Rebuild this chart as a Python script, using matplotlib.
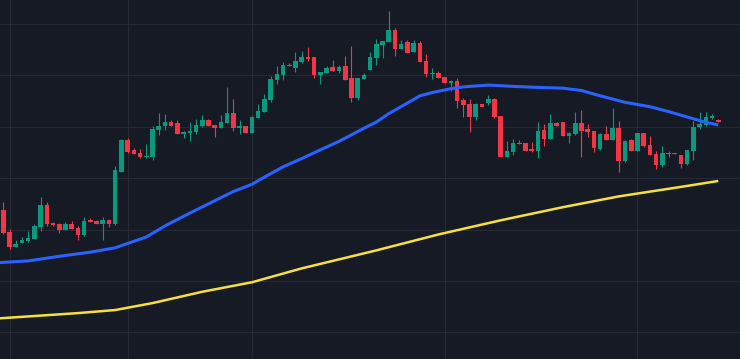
import matplotlib
matplotlib.use("Agg")
import matplotlib.pyplot as plt

# daily candles (oldest first)
opens = [18.76, 17.91, 17.33, 17.49, 17.56, 17.64, 18.11, 18.96, 18.24, 18.22,
         17.99, 18.22, 18.06, 17.79, 18.37, 18.33, 18.23, 18.37, 18.23, 20.25,
         21.48, 21.10, 20.98, 20.81, 20.83, 21.88, 22.03, 22.18, 22.15, 21.73,
         21.77, 21.80, 22.03, 22.26, 22.07, 21.95, 22.15, 22.53, 21.95, 22.03,
         21.77, 22.35, 22.59, 23.04, 23.82, 24.01, 24.40, 24.28, 24.52, 24.71,
         24.71, 24.01, 24.09, 24.32, 24.17, 24.36, 23.90, 23.12, 23.86, 24.21,
         24.67, 25.18, 25.30, 25.76, 25.02, 25.30, 24.91, 25.26, 24.56, 24.05,
         24.09, 23.93, 23.70, 23.78, 23.04, 22.88, 22.38, 22.88, 22.92, 23.08,
         22.42, 20.82, 21.02, 21.37, 21.37, 21.13, 21.06, 21.87, 21.52, 22.15,
         22.18, 21.64, 21.72, 22.15, 21.91, 21.83, 21.13, 21.72, 21.48, 21.95,
         20.67, 21.48, 21.06, 21.76, 21.29, 20.94, 20.51, 20.98, 20.98, 20.90,
         20.55, 21.06, 21.99, 22.07, 22.34, 22.26]
highs = [19.08, 18.02, 17.59, 17.71, 17.94, 18.20, 19.27, 19.07, 18.29, 18.26,
         18.28, 18.32, 18.15, 18.48, 18.45, 18.38, 18.48, 18.40, 20.47, 21.52,
         21.56, 21.17, 21.13, 21.33, 22.03, 22.53, 22.50, 22.26, 22.26, 21.85,
         22.18, 22.30, 22.46, 22.30, 22.07, 22.46, 23.55, 23.08, 22.26, 22.03,
         22.43, 22.88, 23.27, 23.97, 24.36, 24.52, 24.48, 24.91, 24.95, 25.10,
         24.71, 24.13, 24.36, 24.60, 24.40, 24.75, 25.14, 23.90, 24.09, 24.91,
         25.41, 25.34, 26.50, 25.84, 25.37, 25.37, 25.37, 25.34, 24.83, 24.28,
         24.17, 23.93, 23.82, 23.90, 23.12, 23.08, 22.92, 22.88, 23.23, 23.12,
         22.42, 21.45, 21.52, 21.48, 21.37, 21.41, 22.18, 22.11, 22.50, 22.18,
         22.18, 21.80, 22.57, 22.65, 22.11, 21.83, 21.76, 22.03, 22.73, 22.22,
         21.48, 21.52, 21.76, 21.76, 21.64, 21.06, 21.25, 21.06, 20.98, 20.90,
         21.10, 22.22, 22.57, 22.57, 22.50, 22.30]
lows = [17.82, 17.26, 17.33, 17.49, 17.52, 17.64, 17.96, 18.15, 18.15, 17.88,
        17.99, 18.02, 17.59, 17.75, 18.31, 18.23, 17.61, 18.10, 18.18, 20.23,
        20.96, 20.94, 20.80, 20.78, 20.72, 21.68, 21.88, 22.03, 21.72, 21.57,
        21.45, 21.72, 21.99, 22.03, 21.60, 21.95, 22.15, 21.83, 21.72, 21.76,
        21.76, 22.34, 22.59, 22.96, 23.66, 23.82, 24.36, 24.13, 24.48, 24.56,
        23.90, 23.66, 24.09, 24.17, 24.09, 23.82, 22.96, 23.04, 23.86, 24.21,
        24.40, 24.67, 25.30, 24.75, 25.02, 24.87, 24.91, 24.52, 23.93, 23.86,
        23.90, 23.70, 23.39, 22.73, 22.38, 21.80, 22.26, 22.77, 22.85, 22.34,
        20.82, 20.82, 20.90, 21.33, 21.06, 21.02, 20.78, 21.25, 21.52, 22.03,
        21.64, 21.37, 21.68, 20.82, 21.60, 21.02, 21.10, 21.48, 21.48, 20.24,
        20.63, 21.06, 21.06, 21.21, 20.90, 20.36, 20.43, 20.82, 20.95, 20.40,
        20.51, 20.71, 21.91, 22.03, 22.30, 22.18]
closes = [17.88, 17.33, 17.44, 17.59, 17.67, 18.13, 18.96, 18.22, 18.19, 17.99,
          18.22, 18.03, 17.80, 18.33, 18.31, 18.23, 18.37, 18.23, 20.32, 21.48,
          21.03, 20.94, 20.83, 20.86, 21.91, 22.03, 22.18, 22.03, 21.72, 21.80,
          21.83, 22.07, 22.26, 22.03, 21.95, 22.18, 22.53, 21.95, 22.03, 21.76,
          22.37, 22.61, 23.08, 23.86, 24.05, 24.40, 24.36, 24.56, 24.71, 24.64,
          24.01, 24.13, 24.28, 24.17, 24.32, 23.82, 23.12, 23.90, 24.01, 24.71,
          25.22, 25.34, 25.76, 25.02, 25.22, 24.87, 25.26, 24.52, 24.05, 24.09,
          23.90, 23.70, 23.78, 23.00, 22.85, 22.38, 22.88, 22.77, 23.08, 22.38,
          20.82, 21.06, 21.37, 21.33, 21.06, 21.06, 21.83, 21.52, 22.15, 22.03,
          21.64, 21.76, 22.15, 21.83, 21.80, 21.17, 21.72, 21.48, 21.95, 20.67,
          21.45, 21.06, 21.76, 21.25, 20.90, 20.51, 20.98, 20.95, 20.95, 20.55,
          21.10, 21.99, 22.11, 22.38, 22.42, 22.18]

# moving averages, sampled at candle index
ma_fast_idx = [-1, 4, 9, 14, 18, 20, 23, 26, 30, 34, 37, 40, 42, 45, 48, 51, 54,
               58, 60, 62, 65, 67, 69, 72, 74, 78, 82, 86, 90, 93, 95, 97, 100,
               104, 107, 110, 113, 115]
ma_fast = [16.71, 16.78, 16.96, 17.12, 17.29, 17.46, 17.71, 18.14, 18.64, 19.12,
           19.48, 19.76, 20.04, 20.44, 20.76, 21.10, 21.43, 21.94, 22.18, 22.51,
           22.92, 23.20, 23.33, 23.48, 23.55, 23.62, 23.57, 23.53, 23.50, 23.41,
           23.27, 23.14, 22.95, 22.78, 22.59, 22.38, 22.17, 22.07]
ma_slow_idx = [-1, 12, 18, 24, 32, 40, 48, 60, 70, 80, 90, 99, 109, 115]
ma_slow = [14.54, 14.75, 14.87, 15.14, 15.58, 15.95, 16.49, 17.19, 17.81, 18.36,
           18.87, 19.29, 19.66, 19.89]

price_grid = [14, 16, 18, 20, 22, 24, 26]
time_grid = [1, 20, 40, 71, 102]

BG = "#161a25"
UP = "#089981"
DOWN = "#f23645"

fig = plt.figure(figsize=(7.4, 3.59), dpi=100, facecolor=BG)
ax = fig.add_axes([0, 0, 1, 1], facecolor=BG)

xs = list(range(len(opens)))
colors = [UP if c >= o else DOWN for o, c in zip(opens, closes)]
bottoms = [min(o, c) for o, c in zip(opens, closes)]
heights = [max(abs(c - o), 0.04) for o, c in zip(opens, closes)]

ax.vlines(xs, lows, highs, colors=colors, linewidth=0.8, zorder=2)
ax.bar(xs, heights, bottom=bottoms, width=0.74, color=colors, linewidth=0, zorder=3)

ax.plot(ma_fast_idx, ma_fast, color="#2962ff", linewidth=2.2, zorder=4,
        solid_capstyle="butt")
ax.plot(ma_slow_idx, ma_slow, color="#f7e03a", linewidth=1.8, zorder=4,
        solid_capstyle="butt")

ax.set_xlim(-0.53, 118.5)
ax.set_ylim(12.965, 26.93)
ax.set_xticks(time_grid)
ax.set_yticks(price_grid)
ax.grid(True, color="#262a36", linewidth=0.75, zorder=0)
ax.tick_params(length=0, labelbottom=False, labelleft=False)
for s in ax.spines.values():
    s.set_visible(False)

fig.savefig("out.png", dpi=100, facecolor=BG)
